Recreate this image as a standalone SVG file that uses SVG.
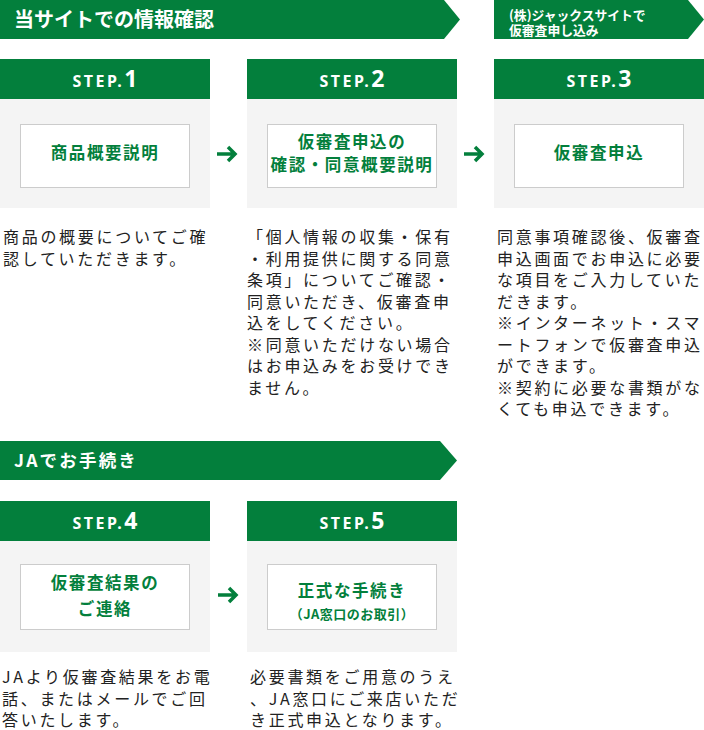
<svg xmlns="http://www.w3.org/2000/svg" width="704" height="730" viewBox="0 0 704 730">
<style>
.bn{fill:#037f3c}
.bt{fill:#fff;font-family:"Noto Sans CJK JP","Noto Sans",sans-serif;font-weight:700}
.hd{fill:#037f3c}
.pn{fill:#f4f4f4}
.bx{fill:#fff;stroke:#cccccc;stroke-width:1}
.st{fill:#fff;font-family:"Noto Sans","Noto Sans CJK JP",sans-serif;font-weight:700;font-size:16px;letter-spacing:2.5px}
.sn{font-size:23px;letter-spacing:0}
.lb{fill:#037f3c;font-family:"Noto Sans CJK JP",sans-serif;font-weight:700;font-size:16.5px;letter-spacing:1.6px;text-anchor:middle}
.tx{fill:#222;font-family:"Noto Sans CJK JP",sans-serif;font-size:16px;letter-spacing:2.7px}
.ar{fill:none;stroke:#037f3c;stroke-width:3.5}
</style>
<g id="banner1">
<polygon class="bn" points="0,0 444,0 460,19.5 444,39 0,39"/>
<text class="bt" x="14" y="27" font-size="20">当サイトでの情報確認</text>
</g>
<g id="banner2">
<polygon class="bn" points="494,0 688,0 704,19.5 688,39 494,39"/>
<text class="bt" x="509" y="19.5" font-size="12.8">(株)ジャックスサイトで</text>
<text class="bt" x="509" y="34.5" font-size="12.8">仮審査申し込み</text>
</g>
<g id="banner3">
<polygon class="bn" points="0,441 440,441 457,460.5 440,480 0,480"/>
<text class="bt" x="14" y="467" font-size="17.5" letter-spacing="2.2">JAでお手続き</text>
</g>
<g id="step1">
<rect class="hd" x="0" y="59" width="210" height="40"/>
<rect class="pn" x="0" y="99" width="210" height="109"/>
<text class="st" x="105" y="86.5" text-anchor="middle">STEP.<tspan class="sn">1</tspan></text>
<rect class="bx" x="20.5" y="124.5" width="169" height="63"/>
<text class="lb" x="105" y="159">商品概要説明</text>
<text class="tx" x="3" y="243">商品の概要についてご確</text>
<text class="tx" x="3" y="264.5">認していただきます。</text>
</g>
<g id="step2">
<rect class="hd" x="247" y="59" width="210" height="40"/>
<rect class="pn" x="247" y="99" width="210" height="109"/>
<text class="st" x="352" y="86.5" text-anchor="middle">STEP.<tspan class="sn">2</tspan></text>
<rect class="bx" x="267.5" y="124.5" width="169" height="63"/>
<text class="lb" x="352" y="147.5">仮審査申込の</text>
<text class="lb" x="352" y="171">確認・同意概要説明</text>
<text class="tx" x="247" y="243">「個人情報の収集・保有</text>
<text class="tx" x="247" y="264.5">・利用提供に関する同意</text>
<text class="tx" x="247" y="286">条項」についてご確認・</text>
<text class="tx" x="247" y="307.5">同意いただき、仮審査申</text>
<text class="tx" x="247" y="329">込をしてください。</text>
<text class="tx" x="247" y="350.5">※同意いただけない場合</text>
<text class="tx" x="247" y="372">はお申込みをお受けでき</text>
<text class="tx" x="247" y="393.5">ません。</text>
</g>
<g id="step3">
<rect class="hd" x="494" y="59" width="210" height="40"/>
<rect class="pn" x="494" y="99" width="210" height="109"/>
<text class="st" x="599" y="86.5" text-anchor="middle">STEP.<tspan class="sn">3</tspan></text>
<rect class="bx" x="514.5" y="124.5" width="169" height="63"/>
<text class="lb" x="599" y="159">仮審査申込</text>
<text class="tx" x="497" y="243">同意事項確認後、仮審査</text>
<text class="tx" x="497" y="264.5">申込画面でお申込に必要</text>
<text class="tx" x="497" y="286">な項目をご入力していた</text>
<text class="tx" x="497" y="307.5">だきます。</text>
<text class="tx" x="497" y="329">※インターネット・スマ</text>
<text class="tx" x="497" y="350.5">ートフォンで仮審査申込</text>
<text class="tx" x="497" y="372">ができます。</text>
<text class="tx" x="497" y="393.5">※契約に必要な書類がな</text>
<text class="tx" x="497" y="415">くても申込できます。</text>
</g>
<g id="step4">
<rect class="hd" x="0" y="501" width="210" height="40"/>
<rect class="pn" x="0" y="541" width="210" height="111"/>
<text class="st" x="105" y="528.5" text-anchor="middle">STEP.<tspan class="sn">4</tspan></text>
<rect class="bx" x="20.5" y="564.5" width="169" height="65"/>
<text class="lb" x="105" y="589">仮審査結果の</text>
<text class="lb" x="105" y="615">ご連絡</text>
<text class="tx" x="2" y="683">JAより仮審査結果をお電</text>
<text class="tx" x="2" y="704.5">話、またはメールでご回</text>
<text class="tx" x="2" y="726">答いたします。</text>
</g>
<g id="step5">
<rect class="hd" x="247" y="501" width="210" height="40"/>
<rect class="pn" x="247" y="541" width="210" height="111"/>
<text class="st" x="352" y="528.5" text-anchor="middle">STEP.<tspan class="sn">5</tspan></text>
<rect class="bx" x="267.5" y="564.5" width="169" height="65"/>
<text class="lb" x="352" y="597">正式な手続き</text>
<text class="lb" x="352" y="619" style="font-size:13px;letter-spacing:0.5px">（JA窓口のお取引）</text>
<text class="tx" x="250" y="683">必要書類をご用意のうえ</text>
<text class="tx" x="250" y="704.5">、JA窓口にご来店いただ</text>
<text class="tx" x="250" y="726">き正式申込となります。</text>
</g>
<g id="connectors">
<path class="ar" d="M217,154 H235 M228,147 L235,154 L228,161"/>
<path class="ar" d="M464,154 H482 M475,147 L482,154 L475,161"/>
<path class="ar" d="M218,595 H236 M229,588 L236,595 L229,602"/>
</g>
</svg>
